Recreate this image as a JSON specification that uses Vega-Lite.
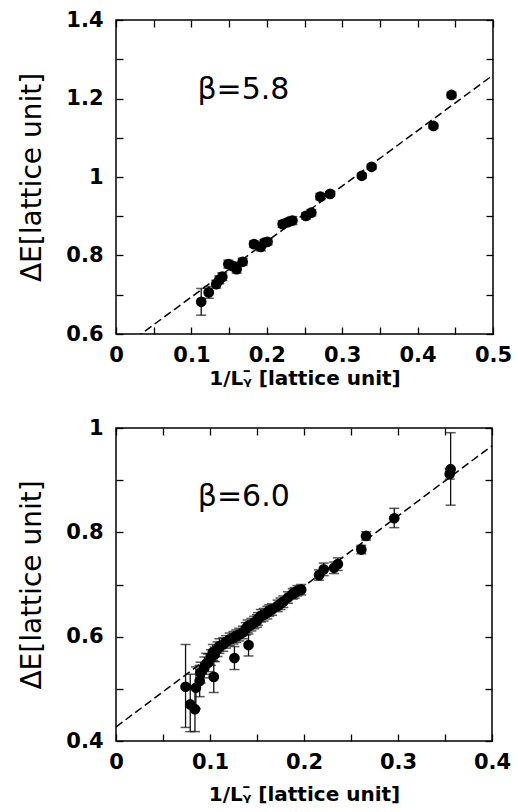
{
 "$schema": "https://vega.github.io/schema/vega-lite/v6.json",
 "background": "white",
 "padding": {"left": 18, "top": 8, "right": 0, "bottom": 0},
 "spacing": 27,
 "datasets": {
  "top58": [
   {"x":0.113,"y":0.682,"lo":0.648,"hi":0.716},
   {"x":0.123,"y":0.706,"lo":0.691,"hi":0.721},
   {"x":0.133,"y":0.727,"lo":0.717,"hi":0.737},
   {"x":0.137,"y":0.738,"lo":0.728,"hi":0.748},
   {"x":0.141,"y":0.746,"lo":0.736,"hi":0.756},
   {"x":0.149,"y":0.778,"lo":0.768,"hi":0.788},
   {"x":0.155,"y":0.773,"lo":0.763,"hi":0.783},
   {"x":0.160,"y":0.765,"lo":0.755,"hi":0.775},
   {"x":0.168,"y":0.784,"lo":0.775,"hi":0.793},
   {"x":0.183,"y":0.829,"lo":0.821,"hi":0.837},
   {"x":0.192,"y":0.822,"lo":0.812,"hi":0.832},
   {"x":0.197,"y":0.833,"lo":0.825,"hi":0.841},
   {"x":0.201,"y":0.835,"lo":0.827,"hi":0.843},
   {"x":0.221,"y":0.880,"lo":0.872,"hi":0.888},
   {"x":0.228,"y":0.885,"lo":0.877,"hi":0.893},
   {"x":0.234,"y":0.889,"lo":0.879,"hi":0.899},
   {"x":0.252,"y":0.901,"lo":0.893,"hi":0.909},
   {"x":0.259,"y":0.909,"lo":0.901,"hi":0.917},
   {"x":0.271,"y":0.950,"lo":0.942,"hi":0.958},
   {"x":0.284,"y":0.957,"lo":0.951,"hi":0.963},
   {"x":0.326,"y":1.003,"lo":0.997,"hi":1.009},
   {"x":0.339,"y":1.026,"lo":1.020,"hi":1.032},
   {"x":0.421,"y":1.130,"lo":1.124,"hi":1.136},
   {"x":0.445,"y":1.209,"lo":1.202,"hi":1.216}
  ],
  "bottom60": [
   {"x":0.074,"y":0.504,"lo":0.426,"hi":0.585},
   {"x":0.079,"y":0.470,"lo":0.418,"hi":0.528},
   {"x":0.084,"y":0.461,"lo":0.418,"hi":0.505},
   {"x":0.085,"y":0.502,"lo":0.462,"hi":0.542},
   {"x":0.089,"y":0.515,"lo":0.485,"hi":0.545},
   {"x":0.090,"y":0.531,"lo":0.511,"hi":0.551},
   {"x":0.094,"y":0.541,"lo":0.521,"hi":0.561},
   {"x":0.096,"y":0.548,"lo":0.528,"hi":0.568},
   {"x":0.098,"y":0.550,"lo":0.533,"hi":0.567},
   {"x":0.101,"y":0.560,"lo":0.545,"hi":0.575},
   {"x":0.103,"y":0.570,"lo":0.555,"hi":0.585},
   {"x":0.104,"y":0.523,"lo":0.493,"hi":0.553},
   {"x":0.105,"y":0.566,"lo":0.552,"hi":0.580},
   {"x":0.108,"y":0.576,"lo":0.562,"hi":0.590},
   {"x":0.110,"y":0.582,"lo":0.568,"hi":0.596},
   {"x":0.114,"y":0.585,"lo":0.572,"hi":0.598},
   {"x":0.117,"y":0.590,"lo":0.578,"hi":0.602},
   {"x":0.121,"y":0.595,"lo":0.583,"hi":0.607},
   {"x":0.125,"y":0.598,"lo":0.586,"hi":0.610},
   {"x":0.126,"y":0.559,"lo":0.537,"hi":0.581},
   {"x":0.128,"y":0.601,"lo":0.589,"hi":0.613},
   {"x":0.131,"y":0.604,"lo":0.592,"hi":0.616},
   {"x":0.135,"y":0.608,"lo":0.596,"hi":0.620},
   {"x":0.138,"y":0.615,"lo":0.603,"hi":0.627},
   {"x":0.140,"y":0.620,"lo":0.608,"hi":0.632},
   {"x":0.141,"y":0.584,"lo":0.563,"hi":0.605},
   {"x":0.144,"y":0.623,"lo":0.611,"hi":0.635},
   {"x":0.147,"y":0.627,"lo":0.615,"hi":0.639},
   {"x":0.150,"y":0.630,"lo":0.618,"hi":0.642},
   {"x":0.151,"y":0.634,"lo":0.622,"hi":0.646},
   {"x":0.154,"y":0.640,"lo":0.628,"hi":0.652},
   {"x":0.157,"y":0.642,"lo":0.630,"hi":0.654},
   {"x":0.161,"y":0.646,"lo":0.634,"hi":0.658},
   {"x":0.163,"y":0.650,"lo":0.639,"hi":0.661},
   {"x":0.166,"y":0.652,"lo":0.641,"hi":0.663},
   {"x":0.172,"y":0.659,"lo":0.648,"hi":0.670},
   {"x":0.175,"y":0.663,"lo":0.652,"hi":0.674},
   {"x":0.178,"y":0.667,"lo":0.656,"hi":0.678},
   {"x":0.183,"y":0.675,"lo":0.664,"hi":0.686},
   {"x":0.188,"y":0.682,"lo":0.672,"hi":0.692},
   {"x":0.190,"y":0.684,"lo":0.674,"hi":0.694},
   {"x":0.193,"y":0.688,"lo":0.678,"hi":0.698},
   {"x":0.197,"y":0.690,"lo":0.680,"hi":0.700},
   {"x":0.216,"y":0.718,"lo":0.708,"hi":0.728},
   {"x":0.221,"y":0.729,"lo":0.717,"hi":0.741},
   {"x":0.232,"y":0.732,"lo":0.721,"hi":0.743},
   {"x":0.236,"y":0.739,"lo":0.727,"hi":0.751},
   {"x":0.261,"y":0.767,"lo":0.759,"hi":0.775},
   {"x":0.266,"y":0.793,"lo":0.785,"hi":0.801},
   {"x":0.296,"y":0.827,"lo":0.809,"hi":0.846},
   {"x":0.355,"y":0.912,"lo":0.902,"hi":0.922},
   {"x":0.356,"y":0.921,"lo":0.852,"hi":0.991}
  ],
  "fit58": [{"x":0,"y":0.553},{"x":0.5,"y":1.2595}],
  "fit60": [{"x":0,"y":0.427},{"x":0.4,"y":0.966}]
 },
 "config": {
  "view": {"stroke": "black", "strokeWidth": 1.5},
  "axis": {
   "domain": false, "grid": false,
   "tickSize": -7, "tickColor": "black", "tickWidth": 1.3,
   "labelFont": "DejaVu Sans", "labelFontWeight": "bold", "labelFontSize": 21, "labelColor": "black",
   "labelPadding": 20, "labelFlush": false, "labelOverlap": false, "labelBound": false,
   "titleColor": "black", "titleFont": "DejaVu Sans"
  },
  "axisX": {"titleFontWeight": "bold", "titleFontSize": 20, "labelPadding": 17},
  "axisY": {"titleFontWeight": "normal", "titleFontSize": 28, "titlePadding": 19}
 },
 "vconcat": [
  {
   "width": 377, "height": 314,
   "resolve": {"axis": {"x": "independent", "y": "independent"}},
   "layer": [
    {"data": {"name": "fit58"},
     "mark": {"type": "line", "strokeDash": [8, 4], "strokeWidth": 1.5, "color": "black", "clip": true},
     "encoding": {
      "x": {"field": "x", "type": "quantitative", "scale": {"domain": [0, 0.5], "nice": false, "zero": false},
            "axis": {"orient": "top", "values": [0,0.05,0.1,0.15,0.2,0.25,0.3,0.35,0.4,0.45,0.5], "labels": false, "title": null}},
      "y": {"field": "y", "type": "quantitative", "scale": {"domain": [0.6, 1.4], "nice": false, "zero": false},
            "axis": {"orient": "right", "values": [0.6,0.7,0.8,0.9,1,1.1,1.2,1.3,1.4], "labels": false, "title": null}}
     }},
    {"data": {"name": "top58"},
     "mark": {"type": "rule", "color": "#111", "strokeWidth": 1.3},
     "encoding": {
      "x": {"field": "x", "type": "quantitative", "axis": null},
      "y": {"field": "lo", "type": "quantitative", "axis": null},
      "y2": {"field": "hi"}
     }},
    {"data": {"name": "top58"},
     "mark": {"type": "tick", "orient": "horizontal", "size": 10, "thickness": 1.5, "color": "#111"},
     "encoding": {
      "x": {"field": "x", "type": "quantitative", "axis": null},
      "y": {"field": "lo", "type": "quantitative", "axis": null}
     }},
    {"data": {"name": "top58"},
     "mark": {"type": "tick", "orient": "horizontal", "size": 10, "thickness": 1.5, "color": "#111"},
     "encoding": {
      "x": {"field": "x", "type": "quantitative", "axis": null},
      "y": {"field": "hi", "type": "quantitative", "axis": null}
     }},
    {"data": {"name": "top58"},
     "mark": {"type": "point", "filled": true, "size": 115, "color": "black", "opacity": 1},
     "encoding": {
      "x": {"field": "x", "type": "quantitative", "scale": {"domain": [0, 0.5], "nice": false, "zero": false},
            "axis": {"orient": "bottom", "values": [0,0.05,0.1,0.15,0.2,0.25,0.3,0.35,0.4,0.45,0.5],
                     "labelExpr": "round(datum.value*100) % 10 == 0 ? format(datum.value, '~g') : ''",
                     "title": "1/Lᵧ̄ [lattice unit]", "titlePadding": 3}},
      "y": {"field": "y", "type": "quantitative", "scale": {"domain": [0.6, 1.4], "nice": false, "zero": false},
            "axis": {"orient": "left", "values": [0.6,0.7,0.8,0.9,1,1.1,1.2,1.3,1.4],
                     "labelExpr": "round(datum.value*10) % 2 == 0 ? format(datum.value, '~g') : ''",
                     "title": "ΔE[lattice unit]"}}
     }},
    {"data": {"values": [{"label": "β=5.8"}]},
     "mark": {"type": "text", "align": "left", "baseline": "alphabetic", "fontSize": 30, "font": "DejaVu Sans", "color": "black"},
     "encoding": {
      "text": {"field": "label"},
      "x": {"datum": 0.108, "type": "quantitative", "axis": null},
      "y": {"datum": 1.2, "type": "quantitative", "axis": null}
     }}
   ]
  },
  {
   "width": 376, "height": 313,
   "resolve": {"axis": {"x": "independent", "y": "independent"}},
   "layer": [
    {"data": {"name": "fit60"},
     "mark": {"type": "line", "strokeDash": [8, 4], "strokeWidth": 1.5, "color": "black", "clip": true},
     "encoding": {
      "x": {"field": "x", "type": "quantitative", "scale": {"domain": [0, 0.4], "nice": false, "zero": false},
            "axis": {"orient": "top", "values": [0,0.05,0.1,0.15,0.2,0.25,0.3,0.35,0.4], "labels": false, "title": null}},
      "y": {"field": "y", "type": "quantitative", "scale": {"domain": [0.4, 1], "nice": false, "zero": false},
            "axis": {"orient": "right", "values": [0.4,0.5,0.6,0.7,0.8,0.9,1], "labels": false, "title": null}}
     }},
    {"data": {"name": "bottom60"},
     "mark": {"type": "rule", "color": "#111", "strokeWidth": 1.3},
     "encoding": {
      "x": {"field": "x", "type": "quantitative", "axis": null},
      "y": {"field": "lo", "type": "quantitative", "axis": null},
      "y2": {"field": "hi"}
     }},
    {"data": {"name": "bottom60"},
     "mark": {"type": "tick", "orient": "horizontal", "size": 10, "thickness": 1.5, "color": "#111"},
     "encoding": {
      "x": {"field": "x", "type": "quantitative", "axis": null},
      "y": {"field": "lo", "type": "quantitative", "axis": null}
     }},
    {"data": {"name": "bottom60"},
     "mark": {"type": "tick", "orient": "horizontal", "size": 10, "thickness": 1.5, "color": "#111"},
     "encoding": {
      "x": {"field": "x", "type": "quantitative", "axis": null},
      "y": {"field": "hi", "type": "quantitative", "axis": null}
     }},
    {"data": {"name": "bottom60"},
     "mark": {"type": "point", "filled": true, "size": 115, "color": "black", "opacity": 1},
     "encoding": {
      "x": {"field": "x", "type": "quantitative", "scale": {"domain": [0, 0.4], "nice": false, "zero": false},
            "axis": {"orient": "bottom", "values": [0,0.05,0.1,0.15,0.2,0.25,0.3,0.35,0.4],
                     "labelExpr": "round(datum.value*100) % 10 == 0 ? format(datum.value, '~g') : ''",
                     "title": "1/Lᵧ̄ [lattice unit]", "titlePadding": 12}},
      "y": {"field": "y", "type": "quantitative", "scale": {"domain": [0.4, 1], "nice": false, "zero": false},
            "axis": {"orient": "left", "values": [0.4,0.5,0.6,0.7,0.8,0.9,1],
                     "labelExpr": "round(datum.value*10) % 2 == 0 ? format(datum.value, '~g') : ''",
                     "title": "ΔE[lattice unit]"}}
     }},
    {"data": {"values": [{"label": "β=6.0"}]},
     "mark": {"type": "text", "align": "left", "baseline": "alphabetic", "fontSize": 30, "font": "DejaVu Sans", "color": "black"},
     "encoding": {
      "text": {"field": "label"},
      "x": {"datum": 0.087, "type": "quantitative", "axis": null},
      "y": {"datum": 0.85, "type": "quantitative", "axis": null}
     }}
   ]
  }
 ]
}
